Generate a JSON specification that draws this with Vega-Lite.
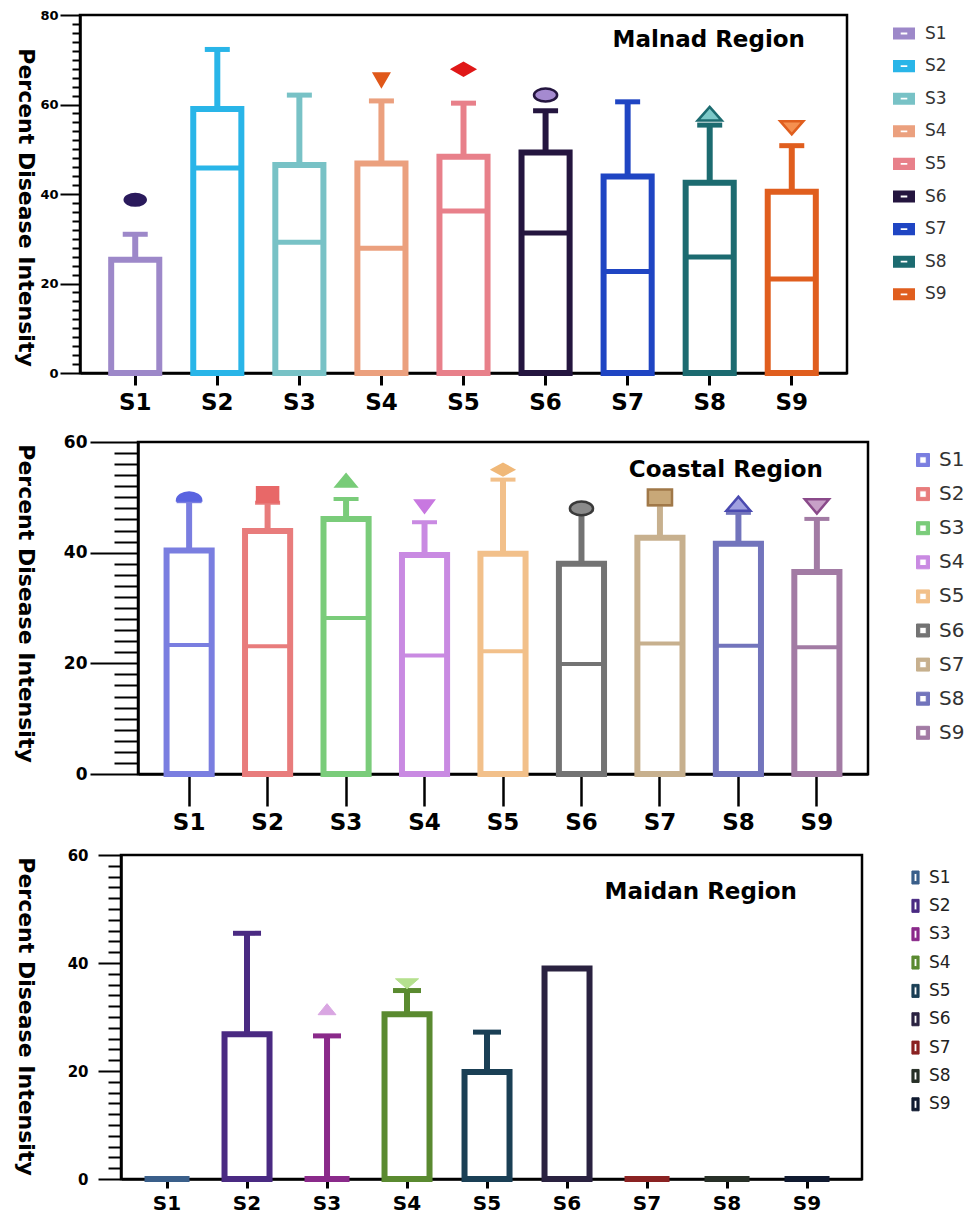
{
  "$schema": "https://vega.github.io/schema/vega-lite/v6.json",
  "background": "white",
  "padding": {"left": 11, "top": 7, "right": 0, "bottom": 0},
  "spacing": 10,
  "config": {
    "view": {"stroke": "black", "strokeWidth": 2.5},
    "axis": {"grid": false, "domainColor": "black", "tickColor": "black", "labelColor": "black", "titleColor": "black"}
  },
  "datasets": {
    "malnad": [
      {"site": "S1", "q3": 25.3, "med": null, "wmax": 31.0},
      {"site": "S2", "q3": 59.0, "med": 45.8, "wmax": 72.3},
      {"site": "S3", "q3": 46.5, "med": 29.2, "wmax": 62.1},
      {"site": "S4", "q3": 46.8, "med": 27.9, "wmax": 60.8},
      {"site": "S5", "q3": 48.3, "med": 36.2, "wmax": 60.3},
      {"site": "S6", "q3": 49.3, "med": 31.3, "wmax": 58.6},
      {"site": "S7", "q3": 43.9, "med": 22.7, "wmax": 60.6},
      {"site": "S8", "q3": 42.5, "med": 25.9, "wmax": 55.4},
      {"site": "S9", "q3": 40.5, "med": 21.0, "wmax": 50.8}
    ],
    "malnad_out": [
      {"station": "S1", "value": 38.7},
      {"station": "S4", "value": 65.5},
      {"station": "S5", "value": 67.9},
      {"station": "S6", "value": 62.1},
      {"station": "S8", "value": 57.7},
      {"station": "S9", "value": 55.1}
    ],
    "coastal": [
      {"site": "S1", "q3": 40.4, "med": 23.3, "wmax": 49.3},
      {"site": "S2", "q3": 43.9, "med": 23.1, "wmax": 49.0},
      {"site": "S3", "q3": 46.1, "med": 28.2, "wmax": 49.7},
      {"site": "S4", "q3": 39.6, "med": 21.4, "wmax": 45.5},
      {"site": "S5", "q3": 39.8, "med": 22.2, "wmax": 53.2},
      {"site": "S6", "q3": 38.0, "med": 19.9, "wmax": 47.8},
      {"site": "S7", "q3": 42.7, "med": 23.6, "wmax": 48.7},
      {"site": "S8", "q3": 41.6, "med": 23.2, "wmax": 47.2},
      {"site": "S9", "q3": 36.5, "med": 22.9, "wmax": 46.1}
    ],
    "coastal_out": [
      {"station": "S1", "value": 50.0},
      {"station": "S2", "value": 50.5},
      {"station": "S3", "value": 53.0},
      {"station": "S4", "value": 48.4},
      {"station": "S5", "value": 55.0},
      {"station": "S6", "value": 48.0},
      {"station": "S7", "value": 50.0},
      {"station": "S8", "value": 48.7},
      {"station": "S9", "value": 48.5}
    ],
    "maidan": [
      {"site": "S1", "q3": 0, "wmax": null},
      {"site": "S2", "q3": 26.8, "wmax": 45.5},
      {"site": "S3", "q3": 0, "wmax": 26.5},
      {"site": "S4", "q3": 30.5, "wmax": 34.9},
      {"site": "S5", "q3": 19.8, "wmax": 27.2},
      {"site": "S6", "q3": 39.0, "wmax": null},
      {"site": "S7", "q3": 0, "wmax": null},
      {"site": "S8", "q3": 0, "wmax": null},
      {"site": "S9", "q3": 0, "wmax": null}
    ],
    "maidan_out": [
      {"station": "S3", "value": 31.4},
      {"station": "S4", "value": 36.2}
    ]
  },
  "resolve": {"scale": {"color": "independent", "fill": "independent", "stroke": "independent", "shape": "independent"}},
  "vconcat": [
    {
      "hconcat": [
        {"width": 1, "height": 1, "data": {"values": []}, "mark": {"type": "point", "opacity": 0}, "encoding": {}, "view": {"stroke": null}},
        {
          "name": "p1",
          "width": 767,
          "height": 358,
          "title": {"text": "Malnad Region", "anchor": "end", "frame": "group", "orient": "top", "offset": -61, "dx": -42, "baseline": "alphabetic", "font": "DejaVu Sans", "fontWeight": "bold", "fontSize": 23, "color": "black"},
          "data": {"name": "malnad"},
          "encoding": {
            "x": {"field": "site", "type": "nominal",
              "scale": {"domain": ["S1","S2","S3","S4","S5","S6","S7","S8","S9"], "paddingInner": 0.414, "paddingOuter": 0.38},
              "axis": {"title": " ", "titleFontSize": 5, "titlePadding": 0, "labelAngle": 0, "tickSize": 12, "tickWidth": 3, "labelPadding": 6, "labelFont": "DejaVu Sans", "labelFontWeight": "bold", "labelFontSize": 23, "domainWidth": 2.5}}
          },
          "layer": [
            {
              "transform": [{"filter": "isValid(datum.wmax)"}],
              "mark": {"type": "rule", "strokeWidth": 6, "opacity": 1},
              "encoding": {
                "y": {"field": "q3", "type": "quantitative", "scale": {"domain": [0, 80], "nice": false},
                  "axis": {"orient": "left", "values": [0, 20, 40, 60, 80], "tickSize": 20, "tickWidth": 2, "labelPadding": 2, "labelFont": "DejaVu Sans", "labelFontWeight": "bold", "labelFontSize": 13, "domainWidth": 2.5,
                    "title": "Percent Disease Intensity", "titleFont": "DejaVu Sans", "titleFontWeight": "bold", "titleFontSize": 22, "titleAngle": 90, "titleAlign": "center", "titleBaseline": "middle", "titleX": -55, "titleY": 192}},
                "y2": {"field": "wmax"},
                "color": {"field": "site", "type": "nominal", "scale": {"domain": ["S1","S2","S3","S4","S5","S6","S7","S8","S9"], "range": ["#9d88c9","#29b5e8","#78c2c6","#eba07e","#e8808a","#24153f","#1f45c3","#1c6b70","#e05e1e"]},
                  "legend": {"orient": "none", "legendX": 813, "legendY": 7.5, "title": null, "padding": 0, "symbolType": "M-1,-0.55H1V0.55H-1Z M-0.3,-0.08V0.08H0.3V-0.08Z", "symbolSize": 484, "symbolStrokeWidth": 0, "labelFont": "DejaVu Sans", "labelFontSize": 17, "labelColor": "#333333", "labelOffset": 10, "rowPadding": 13.6}}
              }
            },
            {
              "transform": [{"filter": "isValid(datum.wmax)"}],
              "mark": {"type": "tick", "thickness": 5, "size": 25, "opacity": 1},
              "encoding": {
                "y": {"field": "wmax", "type": "quantitative",
                  "axis": {"orient": "left", "values": [2,4,6,8,10,12,14,16,18,22,24,26,28,30,32,34,36,38,42,44,46,48,50,52,54,56,58,62,64,66,68,70,72,74,76,78], "tickSize": 8, "tickWidth": 2, "labels": false, "domain": false, "title": null}},
                "color": {"field": "site", "type": "nominal", "scale": {"domain": ["S1","S2","S3","S4","S5","S6","S7","S8","S9"], "range": ["#9d88c9","#29b5e8","#78c2c6","#eba07e","#e8808a","#24153f","#1f45c3","#1c6b70","#e05e1e"]},
                  "legend": {"orient": "none", "legendX": 813, "legendY": 7.5, "title": null, "padding": 0, "symbolType": "M-1,-0.55H1V0.55H-1Z M-0.3,-0.08V0.08H0.3V-0.08Z", "symbolSize": 484, "symbolStrokeWidth": 0, "labelFont": "DejaVu Sans", "labelFontSize": 17, "labelColor": "#333333", "labelOffset": 10, "rowPadding": 13.6}}
              }
            },
            {
              "mark": {"type": "bar", "filled": false, "strokeWidth": 6, "opacity": 1},
              "encoding": {
                "y": {"field": "q3", "type": "quantitative", "axis": null},
                "color": {"field": "site", "type": "nominal", "scale": {"domain": ["S1","S2","S3","S4","S5","S6","S7","S8","S9"], "range": ["#9d88c9","#29b5e8","#78c2c6","#eba07e","#e8808a","#24153f","#1f45c3","#1c6b70","#e05e1e"]},
                  "legend": {"orient": "none", "legendX": 813, "legendY": 7.5, "title": null, "padding": 0, "symbolType": "M-1,-0.55H1V0.55H-1Z M-0.3,-0.08V0.08H0.3V-0.08Z", "symbolSize": 484, "symbolStrokeWidth": 0, "labelFont": "DejaVu Sans", "labelFontSize": 17, "labelColor": "#333333", "labelOffset": 10, "rowPadding": 13.6}}
              }
            },
            {
              "transform": [{"filter": "isValid(datum.med)"}],
              "mark": {"type": "tick", "thickness": 5, "size": 48, "opacity": 1},
              "encoding": {
                "y": {"field": "med", "type": "quantitative", "axis": null},
                "color": {"field": "site", "type": "nominal", "scale": {"domain": ["S1","S2","S3","S4","S5","S6","S7","S8","S9"], "range": ["#9d88c9","#29b5e8","#78c2c6","#eba07e","#e8808a","#24153f","#1f45c3","#1c6b70","#e05e1e"]},
                  "legend": {"orient": "none", "legendX": 813, "legendY": 7.5, "title": null, "padding": 0, "symbolType": "M-1,-0.55H1V0.55H-1Z M-0.3,-0.08V0.08H0.3V-0.08Z", "symbolSize": 484, "symbolStrokeWidth": 0, "labelFont": "DejaVu Sans", "labelFontSize": 17, "labelColor": "#333333", "labelOffset": 10, "rowPadding": 13.6}}
              }
            },
            {
              "data": {"name": "malnad_out"},
              "mark": {"type": "point", "filled": true, "strokeWidth": 2.5, "size": 441, "opacity": 1},
              "encoding": {
                "x": {"field": "station", "type": "nominal", "title": null},
                "y": {"field": "value", "type": "quantitative", "axis": null},
                "shape": {"field": "station", "type": "nominal", "legend": null, "scale": {"range": ["M-1,0A1,0.55,0,1,1,1,0A1,0.55,0,1,1,-1,0Z", "M-0.7,-0.6L0.7,-0.6L0,0.6Z", "M-1.05,0L0,-0.6L1.05,0L0,0.6Z", "M-1.1,0A1.1,0.62,0,1,1,1.1,0A1.1,0.62,0,1,1,-1.1,0Z", "M-1.15,0.55L1.15,0.55L0,-0.75Z", "M-1.1,-0.5L1.1,-0.5L0,0.75Z"]}},
                "fill": {"field": "station", "type": "nominal", "legend": null, "scale": {"range": ["#2a1a5c","#e0581a","#e01818","#a58ad0","#7cc8c8","#f59050"]}},
                "stroke": {"field": "station", "type": "nominal", "legend": null, "scale": {"range": ["#2a1a5c","#e0581a","#e01818","#24153f","#1c6b70","#e05e1e"]}}
              }
            }
          ],
          "resolve": {"axis": {"y": "independent"}}
        }
      ],
      "spacing": 0,
      "resolve": {"scale": {"color": "independent", "fill": "independent", "stroke": "independent", "shape": "independent"}}
    },
    {
      "hconcat": [
        {"width": 1, "height": 1, "data": {"values": []}, "mark": {"type": "point", "opacity": 0}, "encoding": {}, "view": {"stroke": null}},
        {
          "name": "p2",
          "width": 730,
          "height": 332,
          "title": {"text": "Coastal Region", "anchor": "end", "frame": "group", "orient": "top", "offset": -67, "dx": -45, "baseline": "alphabetic", "font": "DejaVu Sans", "fontWeight": "bold", "fontSize": 23, "color": "black"},
          "data": {"name": "coastal"},
          "encoding": {
            "x": {"field": "site", "type": "nominal",
              "scale": {"domain": ["S1","S2","S3","S4","S5","S6","S7","S8","S9"], "paddingInner": 0.425, "paddingOuter": 0.364},
              "axis": {"title": null, "labelAngle": 0, "tickSize": 32, "tickWidth": 2.5, "labelPadding": 5, "labelFont": "DejaVu Sans", "labelFontWeight": "bold", "labelFontSize": 23, "domainWidth": 2.5}}
          },
          "layer": [
            {
              "mark": {"type": "bar", "filled": false, "strokeWidth": 6, "opacity": 1},
              "encoding": {
                "y": {"field": "q3", "type": "quantitative", "scale": {"domain": [0, 60], "nice": false},
                  "axis": {"orient": "left", "values": [0, 20, 40, 60], "tickSize": 48, "tickWidth": 2, "labelPadding": 3, "labelFont": "DejaVu Sans", "labelFontWeight": "bold", "labelFontSize": 17, "domainWidth": 2.5,
                    "title": "Percent Disease Intensity", "titleFont": "DejaVu Sans", "titleFontWeight": "bold", "titleFontSize": 22, "titleAngle": 90, "titleAlign": "center", "titleBaseline": "middle", "titleX": -113, "titleY": 161}},
                "color": {"field": "site", "type": "nominal", "scale": {"domain": ["S1","S2","S3","S4","S5","S6","S7","S8","S9"], "range": ["#7a7ee0","#e87c7c","#7acc7a","#c98ae2","#f2c08a","#737373","#c7b08e","#7274bc","#a27ba4"]},
                  "legend": {"orient": "none", "legendX": 775, "legendY": 8, "title": null, "padding": 0, "symbolType": "M-1,-1H1V1H-1Z M-0.5,-0.5V0.5H0.5V-0.5Z", "symbolSize": 169, "symbolStrokeWidth": 1, "labelFont": "DejaVu Sans", "labelFontSize": 20, "labelColor": "#333333", "labelOffset": 6, "rowPadding": 14.1}}
              }
            },
            {
              "transform": [{"filter": "isValid(datum.wmax)"}],
              "mark": {"type": "rule", "strokeWidth": 6, "opacity": 1},
              "encoding": {
                "y": {"field": "q3", "type": "quantitative", "axis": null},
                "y2": {"field": "wmax"},
                "color": {"field": "site", "type": "nominal", "scale": {"domain": ["S1","S2","S3","S4","S5","S6","S7","S8","S9"], "range": ["#7a7ee0","#e87c7c","#7acc7a","#c98ae2","#f2c08a","#737373","#c7b08e","#7274bc","#a27ba4"]},
                  "legend": {"orient": "none", "legendX": 775, "legendY": 8, "title": null, "padding": 0, "symbolType": "M-1,-1H1V1H-1Z M-0.5,-0.5V0.5H0.5V-0.5Z", "symbolSize": 169, "symbolStrokeWidth": 1, "labelFont": "DejaVu Sans", "labelFontSize": 20, "labelColor": "#333333", "labelOffset": 6, "rowPadding": 14.1}}
              }
            },
            {
              "transform": [{"filter": "isValid(datum.wmax)"}],
              "mark": {"type": "tick", "thickness": 4, "size": 25, "opacity": 1},
              "encoding": {
                "y": {"field": "wmax", "type": "quantitative",
                  "axis": {"orient": "left", "values": [2,4,6,8,10,12,14,16,18,22,24,26,28,30,32,34,36,38,42,44,46,48,50,52,54,56,58], "tickSize": 24, "tickWidth": 2, "labels": false, "domain": false, "title": null}},
                "color": {"field": "site", "type": "nominal", "scale": {"domain": ["S1","S2","S3","S4","S5","S6","S7","S8","S9"], "range": ["#7a7ee0","#e87c7c","#7acc7a","#c98ae2","#f2c08a","#737373","#c7b08e","#7274bc","#a27ba4"]},
                  "legend": {"orient": "none", "legendX": 775, "legendY": 8, "title": null, "padding": 0, "symbolType": "M-1,-1H1V1H-1Z M-0.5,-0.5V0.5H0.5V-0.5Z", "symbolSize": 169, "symbolStrokeWidth": 1, "labelFont": "DejaVu Sans", "labelFontSize": 20, "labelColor": "#333333", "labelOffset": 6, "rowPadding": 14.1}}
              }
            },
            {
              "transform": [{"filter": "isValid(datum.med)"}],
              "mark": {"type": "tick", "thickness": 4, "size": 45, "opacity": 1},
              "encoding": {
                "y": {"field": "med", "type": "quantitative", "axis": null},
                "color": {"field": "site", "type": "nominal", "scale": {"domain": ["S1","S2","S3","S4","S5","S6","S7","S8","S9"], "range": ["#7a7ee0","#e87c7c","#7acc7a","#c98ae2","#f2c08a","#737373","#c7b08e","#7274bc","#a27ba4"]},
                  "legend": {"orient": "none", "legendX": 775, "legendY": 8, "title": null, "padding": 0, "symbolType": "M-1,-1H1V1H-1Z M-0.5,-0.5V0.5H0.5V-0.5Z", "symbolSize": 169, "symbolStrokeWidth": 1, "labelFont": "DejaVu Sans", "labelFontSize": 20, "labelColor": "#333333", "labelOffset": 6, "rowPadding": 14.1}}
              }
            },
            {
              "data": {"name": "coastal_out"},
              "mark": {"type": "point", "filled": true, "strokeWidth": 2.5, "size": 441, "opacity": 1},
              "encoding": {
                "x": {"field": "station", "type": "nominal", "title": null},
                "y": {"field": "value", "type": "quantitative", "axis": null},
                "shape": {"field": "station", "type": "nominal", "legend": null, "scale": {"range": ["M-1.15,0.3A1.15,0.75,0,0,1,1.15,0.3Z", "M-1,-0.7H1V0.7H-1Z", "M-0.95,0.55L0.95,0.55L0,-0.6Z", "M-0.85,-0.55L0.85,-0.55L0,0.6Z", "M-1,0L0,-0.55L1,0L0,0.55Z", "M-1.1,0A1.1,0.65,0,1,1,1.1,0A1.1,0.65,0,1,1,-1.1,0Z", "M-1.15,-0.75H1.15V0.75H-1.15Z", "M-1.15,0.6L1.15,0.6L0,-0.75Z", "M-1.15,-0.6L1.15,-0.6L0,0.75Z"]}},
                "fill": {"field": "station", "type": "nominal", "legend": null, "scale": {"range": ["#5a64e0","#e86868","#78cc78","#c878e0","#f0b878","#8a8a8a","#c8a878","#a0a0e0","#c8a0c8"]}},
                "stroke": {"field": "station", "type": "nominal", "legend": null, "scale": {"range": ["#5a64e0","#e86868","#78cc78","#c878e0","#f0b878","#3a3a3a","#a07848","#4a4ab0","#8a4a8a"]}}
              }
            }
          ],
          "resolve": {"axis": {"y": "independent"}}
        }
      ],
      "spacing": 0,
      "resolve": {"scale": {"color": "independent", "fill": "independent", "stroke": "independent", "shape": "independent"}}
    },
    {
      "hconcat": [
        {"width": 1, "height": 1, "data": {"values": []}, "mark": {"type": "point", "opacity": 0}, "encoding": {}, "view": {"stroke": null}},
        {
          "name": "p3",
          "width": 741,
          "height": 324,
          "title": {"text": "Maidan Region", "anchor": "end", "frame": "group", "orient": "top", "offset": -74, "dx": -65, "baseline": "alphabetic", "font": "DejaVu Sans", "fontWeight": "bold", "fontSize": 23, "color": "black"},
          "data": {"name": "maidan"},
          "encoding": {
            "x": {"field": "site", "type": "nominal",
              "scale": {"domain": ["S1","S2","S3","S4","S5","S6","S7","S8","S9"], "paddingInner": 0.4375, "paddingOuter": 0.35, "align": 0.42},
              "axis": {"title": null, "labelAngle": 0, "tickSize": 9, "tickWidth": 3, "labelPadding": 5, "labelFont": "DejaVu Sans", "labelFontWeight": "bold", "labelFontSize": 20, "domainWidth": 2.5}}
          },
          "layer": [
            {
              "mark": {"type": "bar", "filled": false, "strokeWidth": 6, "opacity": 1},
              "encoding": {
                "y": {"field": "q3", "type": "quantitative", "scale": {"domain": [0, 60], "nice": false},
                  "axis": {"orient": "left", "values": [0, 20, 40, 60], "tickSize": 23, "tickWidth": 2, "labelPadding": 10, "labelFont": "DejaVu Sans", "labelFontWeight": "bold", "labelFontSize": 15, "domainWidth": 2.5,
                    "title": "Percent Disease Intensity", "titleFont": "DejaVu Sans", "titleFontWeight": "bold", "titleFontSize": 22, "titleAngle": 90, "titleAlign": "center", "titleBaseline": "middle", "titleX": -96, "titleY": 161}},
                "color": {"field": "site", "type": "nominal", "scale": {"domain": ["S1","S2","S3","S4","S5","S6","S7","S8","S9"], "range": ["#3a5f8a","#4a2a82","#8a2a8a","#5a8a30","#1a3f55","#2a2240","#8a2222","#283028","#101a30"]},
                  "legend": {"orient": "none", "legendX": 786, "legendY": 14, "title": null, "padding": 0, "symbolType": "M-0.55,-1H0.55V1H-0.55Z M-0.22,-0.62V0.62H0.22V-0.62Z", "symbolSize": 169, "symbolStrokeWidth": 1, "labelFont": "DejaVu Sans", "labelFontSize": 17, "labelColor": "#222222", "labelOffset": 5, "rowPadding": 10.35}}
              }
            },
            {
              "transform": [{"filter": "isValid(datum.wmax)"}],
              "mark": {"type": "rule", "strokeWidth": 6, "opacity": 1},
              "encoding": {
                "y": {"field": "q3", "type": "quantitative", "axis": null},
                "y2": {"field": "wmax"},
                "color": {"field": "site", "type": "nominal", "scale": {"domain": ["S1","S2","S3","S4","S5","S6","S7","S8","S9"], "range": ["#3a5f8a","#4a2a82","#8a2a8a","#5a8a30","#1a3f55","#2a2240","#8a2222","#283028","#101a30"]},
                  "legend": {"orient": "none", "legendX": 786, "legendY": 14, "title": null, "padding": 0, "symbolType": "M-0.55,-1H0.55V1H-0.55Z M-0.22,-0.62V0.62H0.22V-0.62Z", "symbolSize": 169, "symbolStrokeWidth": 1, "labelFont": "DejaVu Sans", "labelFontSize": 17, "labelColor": "#222222", "labelOffset": 5, "rowPadding": 10.35}}
              }
            },
            {
              "transform": [{"filter": "isValid(datum.wmax)"}],
              "mark": {"type": "tick", "thickness": 5, "size": 28, "opacity": 1},
              "encoding": {
                "y": {"field": "wmax", "type": "quantitative",
                  "axis": {"orient": "left", "values": [2,4,6,8,10,12,14,16,18,22,24,26,28,30,32,34,36,38,42,44,46,48,50,52,54,56,58], "tickSize": 13, "tickWidth": 2, "labels": false, "domain": false, "title": null}},
                "color": {"field": "site", "type": "nominal", "scale": {"domain": ["S1","S2","S3","S4","S5","S6","S7","S8","S9"], "range": ["#3a5f8a","#4a2a82","#8a2a8a","#5a8a30","#1a3f55","#2a2240","#8a2222","#283028","#101a30"]},
                  "legend": {"orient": "none", "legendX": 786, "legendY": 14, "title": null, "padding": 0, "symbolType": "M-0.55,-1H0.55V1H-0.55Z M-0.22,-0.62V0.62H0.22V-0.62Z", "symbolSize": 169, "symbolStrokeWidth": 1, "labelFont": "DejaVu Sans", "labelFontSize": 17, "labelColor": "#222222", "labelOffset": 5, "rowPadding": 10.35}}
              }
            },
            {
              "data": {"name": "maidan_out"},
              "mark": {"type": "point", "filled": true, "strokeWidth": 1, "size": 441, "opacity": 1},
              "encoding": {
                "x": {"field": "station", "type": "nominal", "title": null},
                "y": {"field": "value", "type": "quantitative", "axis": null},
                "shape": {"field": "station", "type": "nominal", "legend": null, "scale": {"range": ["M-0.85,0.5L0.85,0.5L0,-0.55Z", "M-1.1,-0.45L1.1,-0.45L0,0.5Z"]}},
                "fill": {"field": "station", "type": "nominal", "legend": null, "scale": {"range": ["#d9a6e2","#b5e08f"]}},
                "stroke": {"field": "station", "type": "nominal", "legend": null, "scale": {"range": ["#d9a6e2","#b5e08f"]}}
              }
            }
          ],
          "resolve": {"axis": {"y": "independent"}}
        }
      ],
      "spacing": 0,
      "resolve": {"scale": {"color": "independent", "fill": "independent", "stroke": "independent", "shape": "independent"}}
    }
  ]
}
